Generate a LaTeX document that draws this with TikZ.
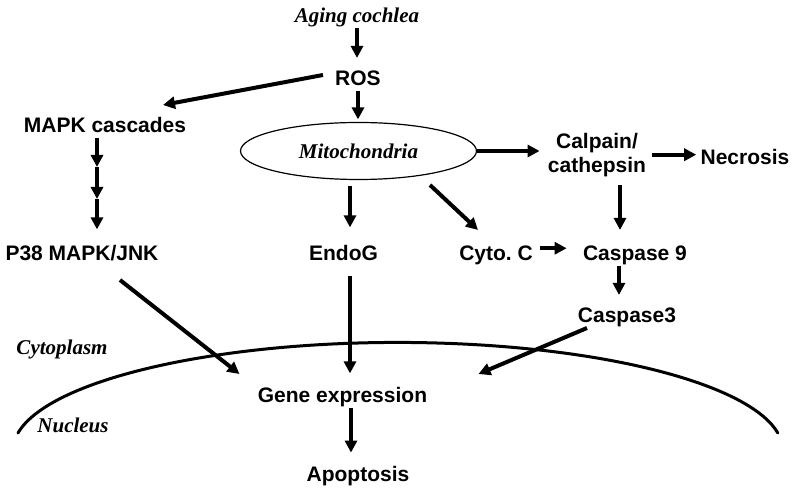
\documentclass[tikz,border=0pt]{standalone}
\usepackage{fontspec}
\setmainfont{Liberation Serif}
\setsansfont{Liberation Sans}
\usetikzlibrary{arrows.meta, positioning, shapes.geometric, calc}

\begin{document}
\begin{tikzpicture}[
		x=0.5pt, y=-0.5pt,
		font=\sffamily\bfseries\fontsize{10.5}{12}\selectfont,
		every node/.style={align=center, inner sep=0pt},
		term/.style={anchor=base},
		place/.style={anchor=base, font=\rmfamily\bfseries\itshape\fontsize{10.5}{12}\selectfont},
		organelle/.style={draw, ellipse, line width=0.6pt, minimum width=118pt, minimum height=28.5pt,
			font=\rmfamily\bfseries\itshape\fontsize{10.5}{12}\selectfont},
		arrow/.style={-{Triangle[length=6pt,width=6pt]}, line width=2pt},
		membrane/.style={line width=1.5pt, line cap=round}
		]
		\useasboundingbox (0,0) rectangle (800,496);
		
		% Stress
		\node (aging) [place] at (357,23) {Aging cochlea};
		\node (ros) [term] at (358,86) {ROS};
		\node (mito) [organelle] at (358.5,151) {Mitochondria};
		
		% MAPK branch
		\node (mapk) [term] at (105,133) {MAPK cascades};
		\node (p38) [term] at (82,261) {P38 MAPK/JNK};
		\coordinate (k1) at (97,167);
		\coordinate (k2) at (97,199);
		
		% Mitochondrial branch
		\node (endog) [term] at (343.5,261) {EndoG};
		\node (cyto) [term] at (496,261) {Cyto.\ C};
		\node (calpain) at (597,154.7) {Calpain/\\cathepsin};
		\node (necrosis) [term] at (745,165) {Necrosis};
		\node (casp9) [term] at (635,261) {Caspase 9};
		\node (casp3) [term] at (627,323) {Caspase3};
		
		% Nucleus
		\node (gene) [term] at (342.5,403) {Gene expression};
		\node (apo) [term] at (358,482) {Apoptosis};
		\node (cytoplasm) [place] at (62,355) {Cytoplasm};
		\node (nucleus) [place] at (73,433) {Nucleus};
		\draw[membrane] (18,433) arc[start angle=189.3, end angle=350.7, x radius=385, y radius=108];
		
		% Arrows
		\draw[arrow, shorten >=6.5pt] (aging.south) -- (aging.south |- ros.north);
		\draw[arrow, shorten <=2pt, shorten >=1.25pt] (ros.south) -- (ros.south |- mito.north);
		\draw[arrow] ([shift={(-35,-11)}]ros.base) -- ([shift={(58,-28)}]mapk.base);
		
		\draw[arrow] ([shift={(-8,5)}]mapk.base) -- (k1);
		\draw[arrow] (k1) -- (k2);
		\draw[arrow, shorten >=8pt] (k2) -- (k2 |- p38.north);
		
		\draw[arrow, shorten <=2.75pt, shorten >=9pt] ([xshift=-4.25pt]mito.south) -- ([xshift=3.25pt]endog.north);
		\draw[arrow, shorten <=7.3pt, shorten >=7pt] ([xshift=3.25pt]endog.south) -- ([xshift=3.25pt]endog.south |- gene.north);
		\draw[arrow, shorten >=6.9pt] ([xshift=4.25pt]gene.south) -- ([xshift=4.25pt]gene.south |- apo.north);
		
		\draw[arrow] ([shift={(71.5,34)}]mito.center) -- ([shift={(-18,-31)}]cyto.base);
		\draw[arrow, shorten >=4pt] (mito.east) -- (mito.east -| calpain.west);
		\draw[arrow, shorten <=3pt, shorten >=2pt] (calpain.east) -- (calpain.east -| necrosis.west);
		\draw[arrow, shorten <=4.3pt, shorten >=8pt] ([xshift=11.5pt]calpain.south) -- ([xshift=11.5pt]calpain.south |- casp9.north);
		\draw[arrow, shorten <=3.6pt, shorten >=8pt] ([yshift=3.8pt]cyto.east) -- ([yshift=3.8pt]casp9.west);
		\draw[arrow, shorten >=6.5pt] ([xshift=-8pt]casp9.south) -- ([xshift=-8pt]casp9.south |- casp3.north);
		
		\draw[arrow] ([shift={(38,19)}]p38.base) -- ([shift={(-103,-29)}]gene.base);
		\draw[arrow] ([shift={(-40,5)}]casp3.base) -- ([shift={(136,-29)}]gene.base);
		
	\end{tikzpicture}
\end{document}
